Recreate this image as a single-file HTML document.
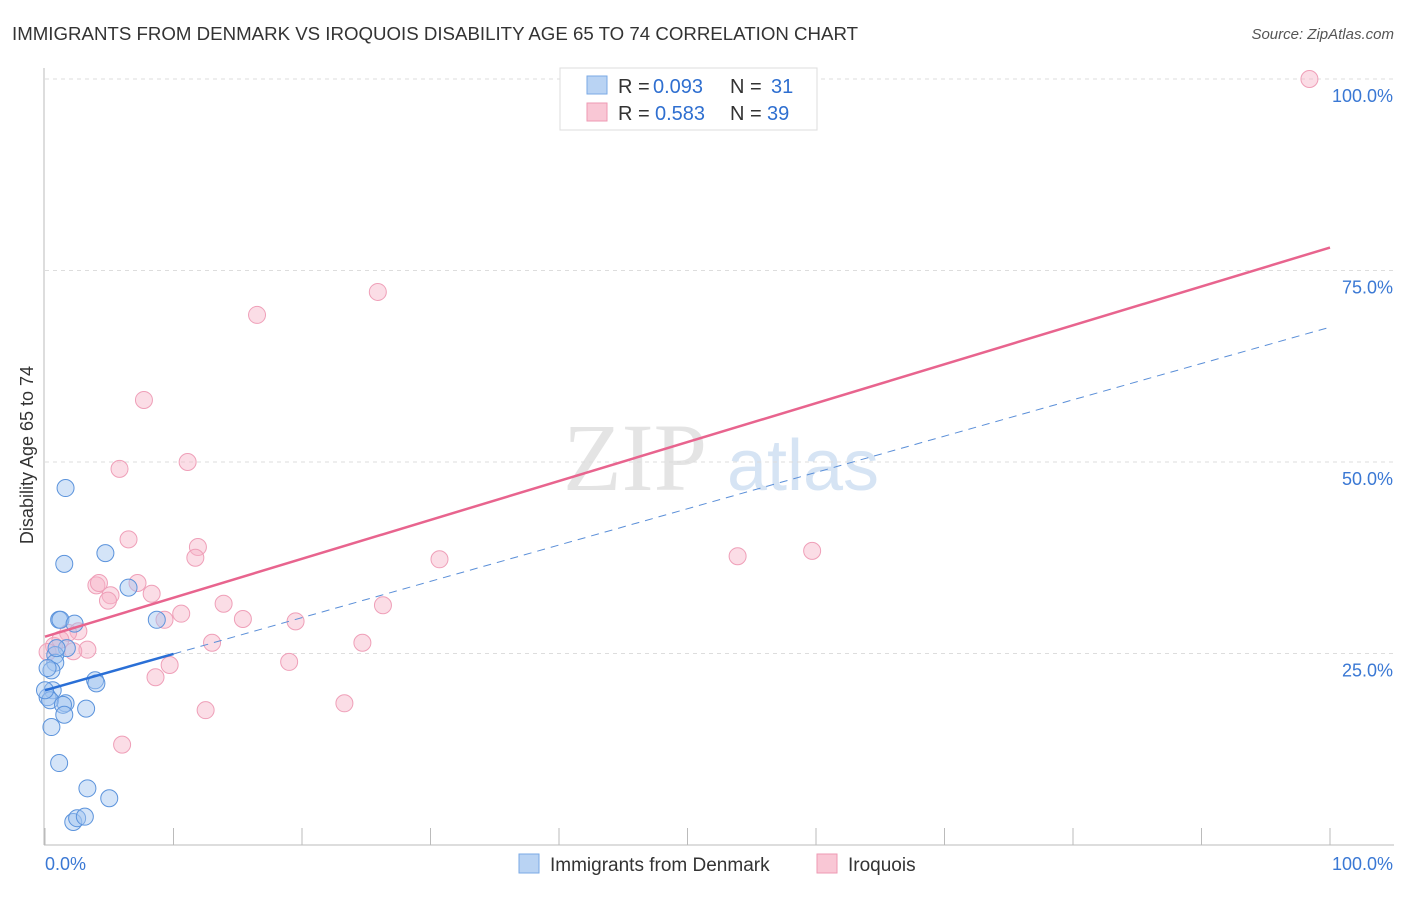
<!DOCTYPE html>
<html><head><meta charset="utf-8"><style>
body{margin:0;background:#fff;font-family:"Liberation Sans",sans-serif;}
svg text{font-family:"Liberation Sans",sans-serif;}
</style></head><body>
<svg id="chart" width="1406" height="892">
<text x="12" y="40" font-size="18" fill="#333" textLength="846" lengthAdjust="spacingAndGlyphs">IMMIGRANTS FROM DENMARK VS IROQUOIS DISABILITY AGE 65 TO 74 CORRELATION CHART</text>
<text x="1394" y="39" font-size="15" fill="#555" text-anchor="end" font-style="italic">Source: ZipAtlas.com</text>
<g>
<text x="635" y="490" font-size="96" fill="#e4e4e4" text-anchor="middle" style="font-family:'Liberation Serif',serif">ZIP</text>
<text x="803" y="490" font-size="72" fill="#d6e4f4" text-anchor="middle">atlas</text>
</g>
<g id="grid"></g>
<g id="axes"></g>
<g id="marks"></g>
<text transform="translate(33,455) rotate(-90)" font-size="18" fill="#333" text-anchor="middle">Disability Age 65 to 74</text>
<g>
<rect x="560" y="68" width="257" height="62" fill="#fff" stroke="#ddd"/>
<rect x="587" y="76" width="20" height="18" fill="#b9d3f3" stroke="#7aaae6"/>
<rect x="587" y="103" width="20" height="18" fill="#f9c7d5" stroke="#ee9ab3"/>
<text x="618" y="93" font-size="20" fill="#333">R = </text>
<text x="653" y="93" font-size="20" fill="#2f6fd0">0.093</text>
<text x="730" y="93" font-size="20" fill="#333">N = </text>
<text x="771" y="93" font-size="20" fill="#2f6fd0">31</text>
<text x="618" y="120" font-size="20" fill="#333">R = </text>
<text x="655" y="120" font-size="20" fill="#2f6fd0">0.583</text>
<text x="730" y="120" font-size="20" fill="#333">N = </text>
<text x="767" y="120" font-size="20" fill="#2f6fd0">39</text>
</g>
<g>
<rect x="519" y="854" width="20" height="19" fill="#b9d3f3" stroke="#7aaae6"/>
<text x="550" y="871" font-size="19" fill="#333">Immigrants from Denmark</text>
<rect x="817" y="854" width="20" height="19" fill="#f9c7d5" stroke="#ee9ab3"/>
<text x="848" y="871" font-size="19" fill="#333">Iroquois</text>
</g>
</svg>
<script>
const yTicks=[25,50,75,100];
const yTickLabels=["25.0%","50.0%","75.0%","100.0%"];
const xTicks=[0,10,20,30,40,50,60,70,80,90,100];
const blueX=[1.6,1.5,4.7,6.5,8.7,1.1,1.2,2.3,1.7,0.8,0.8,0.5,0.2,3.9,4.0,0.6,0.2,0.4,1.6,1.4,3.2,1.5,0.5,1.1,3.3,5.0,2.2,2.5,3.1,0.9,0.0];
const blueY=[46.6,36.7,38.1,33.6,29.4,29.4,29.4,28.9,25.7,24.8,23.8,22.8,23.1,21.5,21.1,20.2,19.3,18.9,18.5,18.3,17.8,17.0,15.4,10.7,7.4,6.1,3.0,3.5,3.7,25.7,20.2];
const pinkX=[98.4,25.9,16.5,7.7,5.8,11.1,6.5,11.9,11.7,30.7,53.9,59.7,4.0,4.2,7.2,8.3,5.1,4.9,13.9,26.3,10.6,9.3,15.4,19.5,2.6,1.8,13.0,24.7,3.3,2.2,0.7,0.2,1.2,19.0,9.7,8.6,23.3,12.5,6.0];
const pinkY=[100,72.2,69.2,58.1,49.1,50.0,39.9,38.9,37.5,37.3,37.7,38.4,33.9,34.2,34.2,32.8,32.6,31.9,31.5,31.3,30.2,29.4,29.5,29.2,27.9,27.7,26.4,26.4,25.5,25.3,26.0,25.2,26.8,23.9,23.5,21.9,18.5,17.6,13.1];
const pinkTrend=[27.2,78.0];
const blueTrend=[20.2,67.6];
const blueSolidEnd=10;
const NS="http://www.w3.org/2000/svg";
const X=v=>45+v*12.85, Y=v=>845-v*7.66;
function mk(tag,attrs,parent){const e=document.createElementNS(NS,tag);for(const k in attrs)e.setAttribute(k,attrs[k]);document.getElementById(parent).appendChild(e);return e;}
yTicks.forEach((t,i)=>{
 const g=mk('line',{x1:45,x2:1394,y1:Y(t),y2:Y(t),stroke:'#ddd','stroke-dasharray':'4,4'},'grid');
 
 
 const l=mk('text',{x:1393,y:Y(t)+23,'font-size':18,fill:'#3a78d4','text-anchor':'end'},'grid');
 l.textContent=yTickLabels[i];
 
 
});
let a=mk('line',{x1:44,x2:44,y1:68,y2:845,stroke:'#bbb'},'axes');


a=mk('line',{x1:44,x2:1394,y1:845,y2:845,stroke:'#bbb'},'axes');


xTicks.forEach(t=>{
 const e=mk('line',{x1:X(t),x2:X(t),y1:828,y2:845,stroke:'#bbb'},'axes');
 
 
});
let tx=mk('text',{x:45,y:870,'font-size':18,fill:'#3a78d4'},'axes');tx.textContent='0.0%';


tx=mk('text',{x:1393,y:870,'font-size':18,fill:'#3a78d4','text-anchor':'end'},'axes');tx.textContent='100.0%';


pinkX.forEach((x,i)=>{
 const c=mk('circle',{cx:X(x),cy:Y(pinkY[i]),r:8.5,fill:'rgba(247,180,200,0.45)',stroke:'#ef9fb8','stroke-width':1},'marks');
 
 
});
blueX.forEach((x,i)=>{
 const c=mk('circle',{cx:X(x),cy:Y(blueY[i]),r:8.5,fill:'rgba(160,195,240,0.45)',stroke:'#5b93dc','stroke-width':1},'marks');
 
 
});
let ln=mk('line',{x1:X(0),y1:Y(pinkTrend[0]),x2:X(100),y2:Y(pinkTrend[1]),stroke:'#e8648e','stroke-width':2.5},'marks');


const bY=v=>blueTrend[0]+(blueTrend[1]-blueTrend[0])*v/100;
ln=mk('line',{x1:X(blueSolidEnd),y1:Y(bY(blueSolidEnd)),x2:X(100),y2:Y(bY(100)),stroke:'#5b8fd8','stroke-width':1,'stroke-dasharray':'8,6'},'marks');


ln=mk('line',{x1:X(0),y1:Y(bY(0)),x2:X(blueSolidEnd),y2:Y(bY(blueSolidEnd)),stroke:'#2a6fd6','stroke-width':2.5},'marks');


const topLine=mk('line',{x1:45,x2:1394,y1:Y(100),y2:Y(100),stroke:'#ddd','stroke-dasharray':'4,4'},'grid');


</script>
</body></html>
